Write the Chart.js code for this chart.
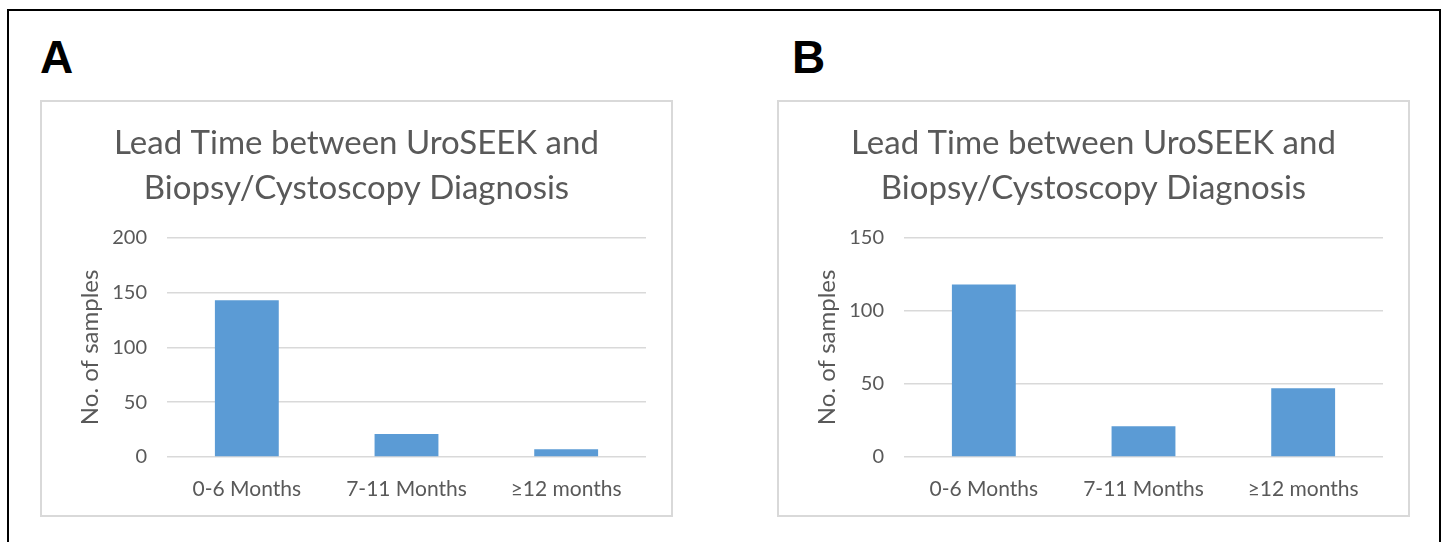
<!DOCTYPE html>
<html>
<head>
<meta charset="utf-8">
<script src="https://cdn.jsdelivr.net/npm/chart.js@4.4.0/dist/chart.umd.min.js"></script>
<style>
  body { margin: 0; background: #fff; width: 1444px; height: 542px; overflow: hidden; position: relative; }
  #frame { position: absolute; left: 7px; top: 9px; width: 1430px; height: 600px; border: 2px solid #000; }
  .letter { position: absolute; top: 30px; font-family: "Liberation Sans", Arial, sans-serif; font-weight: bold; font-size: 46px; color: #000; }
  .box { position: absolute; top: 100px; width: 629px; height: 413px; border: 2px solid #d9d9d9; background: #fff; }
</style>
</head>
<body>
<div id="frame"></div>
<div class="letter" style="left:40px">A</div>
<div class="letter" style="left:792px">B</div>
<div class="box" style="left:40px"><canvas id="chartA" width="629" height="413"></canvas></div>
<div class="box" style="left:777px"><canvas id="chartB" width="629" height="413"></canvas></div>
<script>
// categories and values
var categories = ["0-6 Months", "7-11 Months", "\u226512 months"];
var valuesA = [143, 21, 7];
var valuesB = [118, 21, 47];
var ticksA = { max: 200, step: 50 };
var ticksB = { max: 150, step: 50 };
var titleLines = ["Lead Time between UroSEEK and", "Biopsy/Cystoscopy Diagnosis"];
var yTitle = "No. of samples";

var grey = "#595959";
var font = "Lato, 'Open Sans', sans-serif";

// build one excel-like bar chart
function makeChart(id, values, yTicks) {
  var ctx = document.getElementById(id).getContext("2d");
  return new Chart(ctx, {
    type: "bar",
    data: {
      labels: categories,
      datasets: [
        {
          data: values,
          backgroundColor: "#5b9bd5",
          borderWidth: 0,
          categoryPercentage: 1,
          barPercentage: 0.4,
        },
      ],
    },
    options: {
      responsive: false,
      animation: false,
      layout: { padding: 0 },
      plugins: {
        legend: { display: false },
        tooltip: { enabled: false },
        title: {
          display: true,
          text: titleLines,
          color: grey,
          font: { family: font, size: 33, weight: "normal", lineHeight: 1.36 },
          padding: { top: 19, bottom: 27 },
        },
      },
      scales: {
        x: {
          grid: { display: false },
          border: { display: false },
          ticks: { color: grey, font: { family: font, size: 21 }, padding: 12, maxRotation: 0 },
          afterFit: function (scale) {
            scale.height = 58;
          },
        },
        y: {
          min: 0,
          max: yTicks.max,
          grid: { color: "#d9d9d9", lineWidth: 1.5, drawTicks: false },
          border: { display: false },
          ticks: { stepSize: yTicks.step, color: grey, font: { family: font, size: 20 }, padding: 20 },
          title: {
            display: true,
            text: yTitle,
            color: grey,
            font: { family: font, size: 24 },
            padding: { top: 34, bottom: 0 },
          },
          afterFit: function (scale) {
            scale.width = 125;
          },
        },
        // empty right axis, only keeps the right margin so the title stays centred on the box
        yRight: {
          position: "right",
          grid: { display: false },
          border: { display: false },
          ticks: { display: false },
          afterFit: function (scale) {
            scale.width = 25;
          },
        },
      },
    },
  });
}

var chartA = makeChart("chartA", valuesA, ticksA);
var chartB = makeChart("chartB", valuesB, ticksB);
</script>
</body>
</html>
